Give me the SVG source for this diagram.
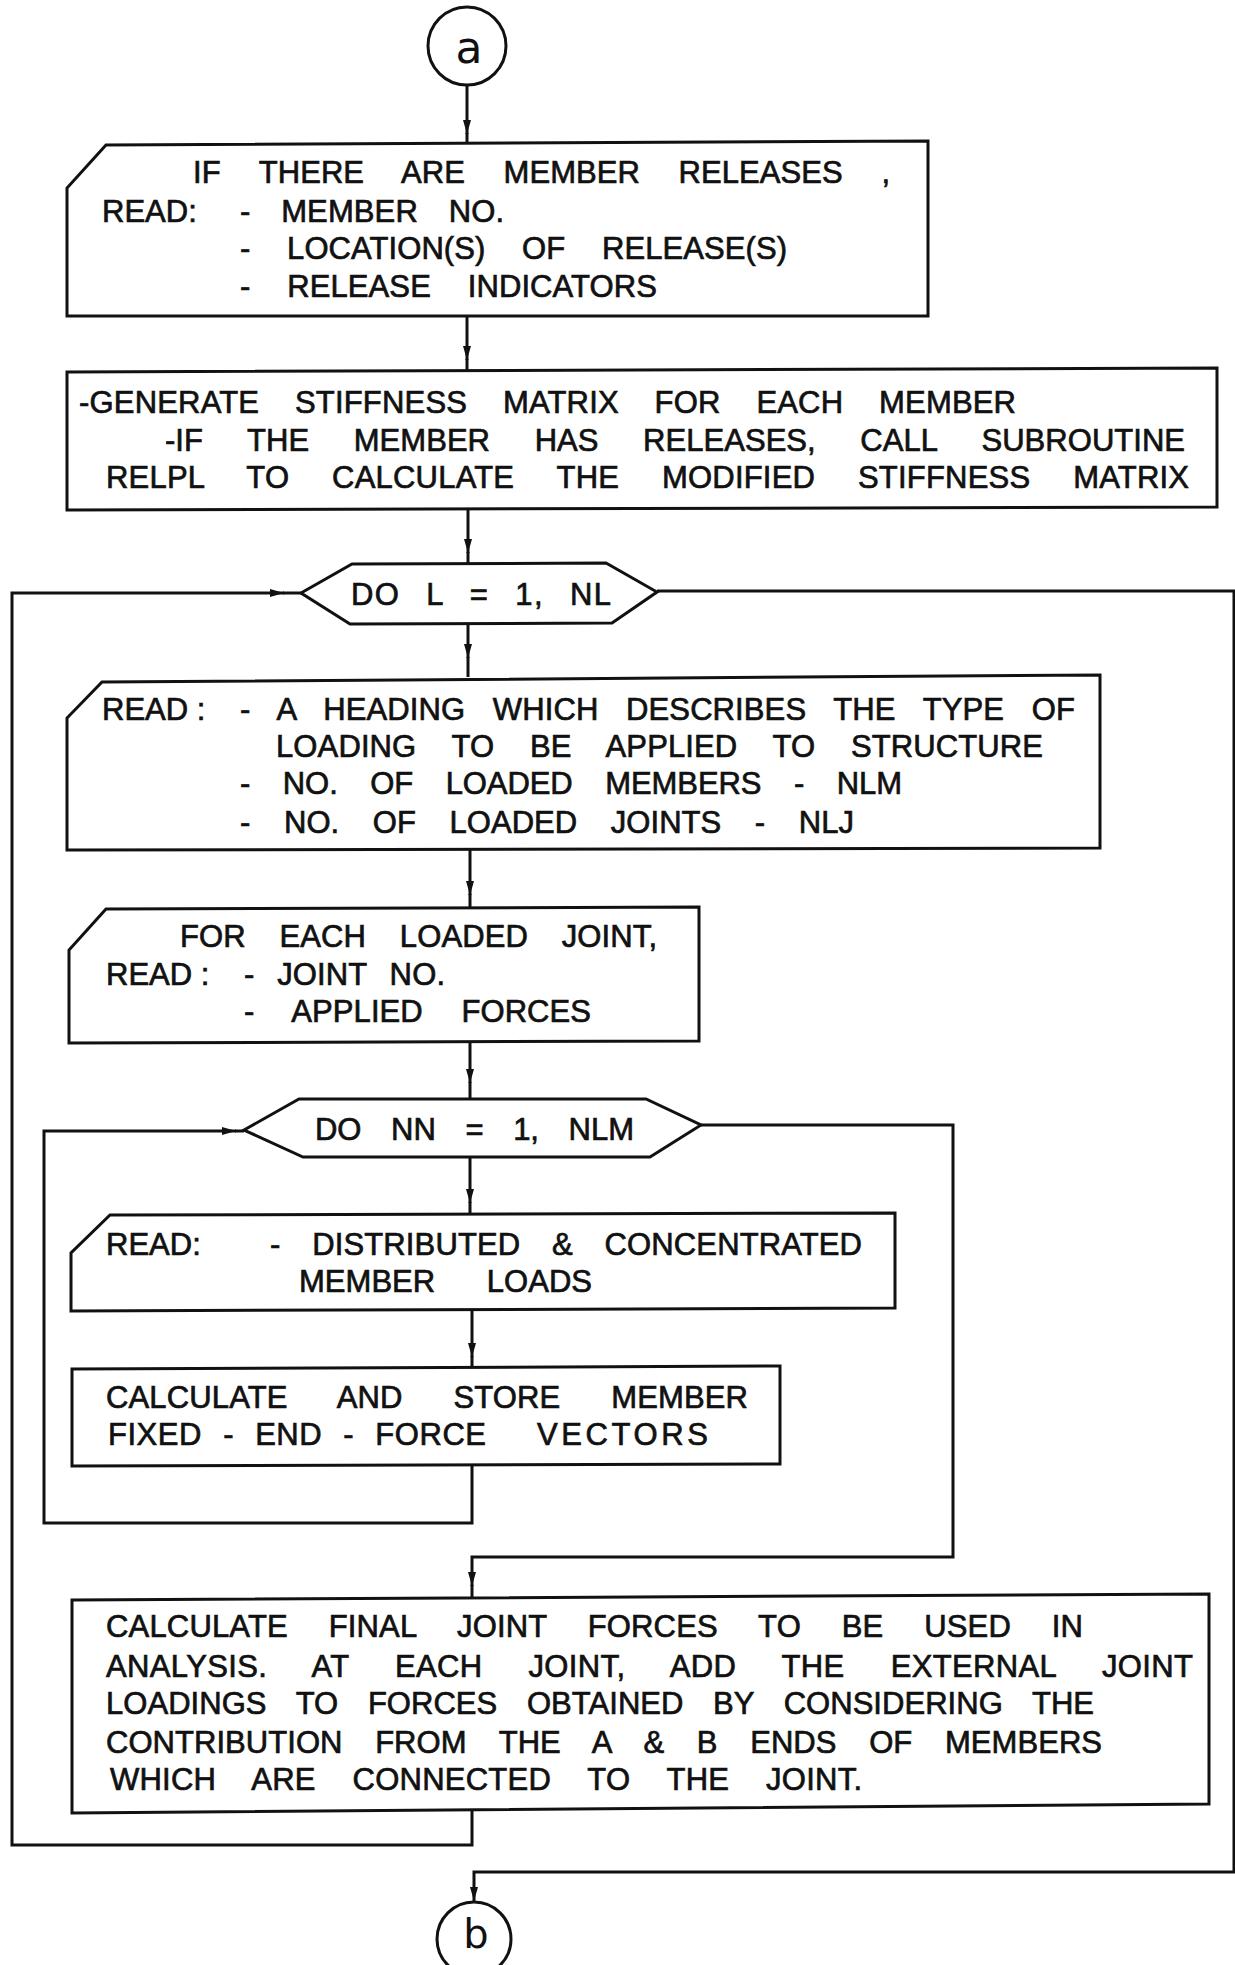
<svg xmlns="http://www.w3.org/2000/svg" width="1235" height="1965" viewBox="0 0 1235 1965">
<defs>
<marker id="ah" markerUnits="userSpaceOnUse" markerWidth="16" markerHeight="10" refX="14" refY="4" orient="auto">
<path d="M0,0 L14,4 L0,8 Z" fill="#111"/>
</marker>
</defs>
<style>
.shape{fill:#fff;stroke:#111;stroke-width:3;stroke-linejoin:miter}
.ln{fill:none;stroke:#111;stroke-width:3}
.t{font-family:"Liberation Sans",Arial,sans-serif;font-size:31px;fill:#111;stroke:#111;stroke-width:0.7}
.c{font-family:"DejaVu Sans","Liberation Sans",sans-serif;fill:#111;text-anchor:middle}
</style>
<rect width="1235" height="1965" fill="#fff"/>

<g id="connectors">
<path class="ln" d="M467,85 V134" marker-end="url(#ah)"/><path class="ln" d="M467,133 V143"/>
<path class="ln" d="M467,316 V360" marker-end="url(#ah)"/><path class="ln" d="M467,359 V370"/>
<path class="ln" d="M468,509 V553" marker-end="url(#ah)"/><path class="ln" d="M468,552 V564"/>
<path class="ln" d="M468,623 V658" marker-end="url(#ah)"/><path class="ln" d="M468,657 V677"/>
<path class="ln" d="M470,849 V895" marker-end="url(#ah)"/><path class="ln" d="M470,894 V908"/>
<path class="ln" d="M470,1042 V1083" marker-end="url(#ah)"/><path class="ln" d="M470,1082 V1099"/>
<path class="ln" d="M470,1157 V1203" marker-end="url(#ah)"/><path class="ln" d="M470,1202 V1214"/>
<path class="ln" d="M472,1310 V1357" marker-end="url(#ah)"/><path class="ln" d="M472,1356 V1367"/>
<path class="ln" d="M472,1465 V1523 H44 V1131 H236" marker-end="url(#ah)"/><path class="ln" d="M235,1131 H244"/>
<path class="ln" d="M701,1125 H953 V1557 H472 V1586" marker-end="url(#ah)"/><path class="ln" d="M472,1585 V1597"/>
<path class="ln" d="M472,1808 V1845 H12 V593 H284" marker-end="url(#ah)"/><path class="ln" d="M283,593 H301"/>
<path class="ln" d="M657,591 H1234 V1872 H474 V1901" marker-end="url(#ah)"/>
</g>

<g id="node-a">
<circle class="shape" cx="467" cy="46" r="39"/>
<text class="c" x="469" y="63" font-size="44">a</text>
</g>

<g id="node-releases">
<polygon class="shape" points="106,145 928,141 928,316 67,316 67,188"/>
<text class="t" x="193" y="183" textLength="697" style="word-spacing:30px">IF THERE ARE MEMBER RELEASES ,</text>
<text class="t" x="102" y="222">READ:</text>
<text class="t" x="240" y="222" textLength="264" style="word-spacing:22px">- MEMBER NO.</text>
<text class="t" x="240" y="259" textLength="547" style="word-spacing:28px">- LOCATION(S) OF RELEASE(S)</text>
<text class="t" x="240" y="297" textLength="417" style="word-spacing:28px">- RELEASE INDICATORS</text>
</g>

<g id="node-stiffness">
<polygon class="shape" points="67,372 1217,368 1217,507 67,510"/>
<text class="t" x="79" y="413" textLength="937" style="word-spacing:27px">-GENERATE STIFFNESS MATRIX FOR EACH MEMBER</text>
<text class="t" x="165" y="451" textLength="1020" style="word-spacing:36px">-IF THE MEMBER HAS RELEASES, CALL SUBROUTINE</text>
<text class="t" x="106" y="488" textLength="1083" style="word-spacing:34px">RELPL TO CALCULATE THE MODIFIED STIFFNESS MATRIX</text>
</g>

<g id="node-do-l">
<polygon class="shape" points="301,593 352,564 606,563 657,592 612,623 350,624"/>
<text class="t" x="351" y="605" textLength="260" style="word-spacing:16px">DO L = 1, NL</text>
</g>

<g id="node-read-heading">
<polygon class="shape" points="102,682 1100,675 1100,848 67,850 67,718"/>
<text class="t" x="102" y="720">READ :</text>
<text class="t" x="240" y="720" textLength="835" style="word-spacing:19px">- A HEADING WHICH DESCRIBES THE TYPE OF</text>
<text class="t" x="276" y="757" textLength="767" style="word-spacing:27px">LOADING TO BE APPLIED TO STRUCTURE</text>
<text class="t" x="240" y="794" textLength="662" style="word-spacing:24px">- NO. OF LOADED MEMBERS - NLM</text>
<text class="t" x="240" y="833" textLength="614" style="word-spacing:25px">- NO. OF LOADED JOINTS - NLJ</text>
</g>

<g id="node-loaded-joint">
<polygon class="shape" points="106,909 699,907 699,1041 69,1043 69,950"/>
<text class="t" x="180" y="947" textLength="477" style="word-spacing:25px">FOR EACH LOADED JOINT,</text>
<text class="t" x="106" y="985">READ :</text>
<text class="t" x="244" y="985" textLength="201" style="word-spacing:14px">- JOINT NO.</text>
<text class="t" x="244" y="1022" textLength="347" style="word-spacing:30px">- APPLIED FORCES</text>
</g>

<g id="node-do-nn">
<polygon class="shape" points="244,1130 299,1099 646,1099 701,1125 650,1157 303,1157"/>
<text class="t" x="315" y="1140" textLength="319" style="word-spacing:21px">DO NN = 1, NLM</text>
</g>

<g id="node-member-loads">
<polygon class="shape" points="110,1215 895,1213 895,1308 71,1311 71,1253"/>
<text class="t" x="106" y="1255">READ:</text>
<text class="t" x="270" y="1255" textLength="592" style="word-spacing:23px">- DISTRIBUTED &amp; CONCENTRATED</text>
<text class="t" x="299" y="1292" textLength="293" style="word-spacing:43px">MEMBER LOADS</text>
</g>

<g id="node-fixed-end">
<polygon class="shape" points="72,1369 780,1366 780,1464 72,1466"/>
<text class="t" x="106" y="1408" textLength="642" style="word-spacing:42px">CALCULATE AND STORE MEMBER</text>
<text class="t" x="108" y="1445" textLength="378" style="word-spacing:12px">FIXED - END - FORCE</text>
<text class="t" x="537" y="1445" textLength="171">VECTORS</text>
</g>

<g id="node-final-forces">
<polygon class="shape" points="72,1600 1209,1594 1209,1804 72,1813"/>
<text class="t" x="106" y="1637" textLength="977" style="word-spacing:32px">CALCULATE FINAL JOINT FORCES TO BE USED IN</text>
<text class="t" x="106" y="1677" textLength="1087" style="word-spacing:37px">ANALYSIS. AT EACH JOINT, ADD THE EXTERNAL JOINT</text>
<text class="t" x="106" y="1714" textLength="988" style="word-spacing:21px">LOADINGS TO FORCES OBTAINED BY CONSIDERING THE</text>
<text class="t" x="106" y="1753" textLength="996" style="word-spacing:24px">CONTRIBUTION FROM THE A &amp; B ENDS OF MEMBERS</text>
<text class="t" x="110" y="1790" textLength="752" style="word-spacing:28px">WHICH ARE CONNECTED TO THE JOINT.</text>
</g>

<g id="node-b">
<circle class="shape" cx="474" cy="1939" r="37"/>
<text class="c" x="476" y="1948" font-size="40">b</text>
</g>
</svg>
